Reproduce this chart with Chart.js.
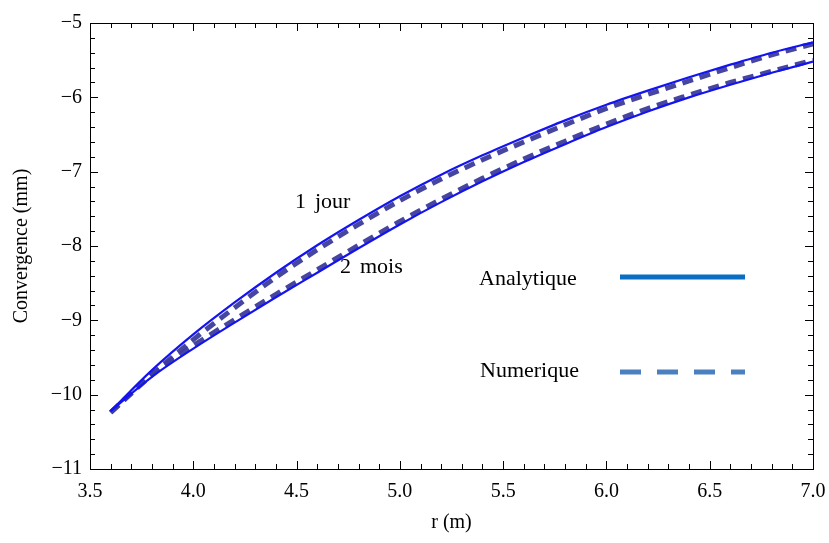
<!DOCTYPE html>
<html>
<head>
<meta charset="utf-8">
<script src="https://cdn.jsdelivr.net/npm/chart.js@4"></script>
<style>
  html, body { margin: 0; padding: 0; background: #fff; }
  #wrap { width: 829px; height: 543px; position: relative; }
</style>
</head>
<body>
<div id="wrap"><canvas id="chart"></canvas></div>
<script>
// r (m)
const rValues = [3.6, 3.8, 4.0, 4.2, 4.4, 4.6, 4.8, 5.0, 5.2, 5.4, 5.6, 5.8, 6.0, 6.2, 6.4, 6.6, 6.8, 7.0];

// convergence (mm), analytical solution
const analytic1Jour = [-10.22, -9.67, -9.19, -8.76, -8.36, -7.99, -7.65, -7.33, -7.04, -6.78, -6.54, -6.31, -6.10, -5.91, -5.73, -5.56, -5.40, -5.26];
const analytic2Mois = [-10.22, -9.76, -9.38, -9.03, -8.69, -8.36, -8.03, -7.71, -7.41, -7.13, -6.87, -6.63, -6.40, -6.19, -6.00, -5.83, -5.67, -5.52];

// convergence (mm), numerical results
const numeric1Jour = [-10.24, -9.73, -9.26, -8.83, -8.42, -8.05, -7.71, -7.39, -7.10, -6.84, -6.60, -6.37, -6.15, -5.96, -5.78, -5.60, -5.43, -5.28];
const numeric2Mois = [-10.24, -9.73, -9.34, -8.99, -8.65, -8.32, -7.99, -7.67, -7.37, -7.09, -6.83, -6.59, -6.36, -6.15, -5.97, -5.80, -5.65, -5.50];

const xTicks = [3.5, 4.0, 4.5, 5.0, 5.5, 6.0, 6.5, 7.0];
const yTicks = [-11, -10, -9, -8, -7, -6, -5];

const curveLabels = [
  { x: 295, y: 208, parts: ['1', 'jour'], gap: 9 },
  { x: 340, y: 273, parts: ['2', 'mois'], gap: 9 }
];
const legendItems = ['Analytique', 'Numerique'];

const serif = '"Liberation Serif", "Times New Roman", serif';
const solidColor = '#1414f0';
const dashColor = 'rgba(60,60,155,0.95)';

function toPoints(ys) {
  return rValues.map((x, i) => ({ x: x, y: ys[i] }));
}

function minus(v) {
  return v < 0 ? '\u2212' + Math.abs(v) : String(v);
}

// frame, inward ticks, titles, labels and legend
const decorations = {
  id: 'decorations',
  afterDraw(chart) {
    const ctx = chart.ctx;
    const a = chart.chartArea;
    const xs = chart.scales.x, ys = chart.scales.y;
    ctx.save();
    ctx.strokeStyle = '#000';
    ctx.lineWidth = 1;
    ctx.strokeRect(a.left + 0.5, a.top + 0.5, a.right - a.left, a.bottom - a.top);

    ctx.beginPath();
    for (let i = 35; i <= 70; i++) {
      const v = i / 10;
      const px = Math.round(xs.getPixelForValue(v)) + 0.5;
      const len = (i % 5 === 0) ? 8 : 5;
      ctx.moveTo(px, a.bottom); ctx.lineTo(px, a.bottom - len);
      ctx.moveTo(px, a.top); ctx.lineTo(px, a.top + len);
    }
    for (let i = -55; i <= -25; i++) {
      const v = i / 5;
      const py = Math.round(ys.getPixelForValue(v)) + 0.5;
      const len = (i % 5 === 0) ? 8 : 5;
      ctx.moveTo(a.left, py); ctx.lineTo(a.left + len, py);
      ctx.moveTo(a.right, py); ctx.lineTo(a.right - len, py);
    }
    ctx.stroke();

    ctx.fillStyle = '#000';
    ctx.font = '20px ' + serif;
    ctx.textAlign = 'center';
    ctx.textBaseline = 'middle';
    ctx.fillText('r (m)', (a.left + a.right) / 2, 523);
    ctx.save();
    ctx.translate(22, (a.top + a.bottom) / 2);
    ctx.rotate(-Math.PI / 2);
    ctx.fillText('Convergence (mm)', 0, 0);
    ctx.restore();

    ctx.font = '22px ' + serif;
    ctx.textAlign = 'left';
    ctx.textBaseline = 'alphabetic';
    curveLabels.forEach(l => {
      ctx.fillText(l.parts[0], l.x, l.y);
      const w = ctx.measureText(l.parts[0]).width;
      ctx.fillText(l.parts[1], l.x + w + l.gap, l.y);
    });

    ctx.fillText(legendItems[0], 479, 285);
    ctx.fillText(legendItems[1], 480, 377);
    ctx.lineWidth = 5;
    ctx.strokeStyle = '#0a6fc2';
    ctx.beginPath(); ctx.moveTo(620, 277); ctx.lineTo(745, 277); ctx.stroke();
    ctx.strokeStyle = '#4a80c0';
    ctx.setLineDash([21, 16]);
    ctx.beginPath(); ctx.moveTo(620, 372); ctx.lineTo(745, 372); ctx.stroke();
    ctx.restore();
  }
};

const solidStyle = { borderColor: solidColor, borderWidth: 2.2, pointRadius: 0, cubicInterpolationMode: 'monotone', fill: false };
const dashStyle = { borderColor: dashColor, borderWidth: 5, borderDash: [11, 7], pointRadius: 0, cubicInterpolationMode: 'monotone', fill: false };

new Chart(document.getElementById('chart'), {
  type: 'line',
  data: {
    datasets: [
      Object.assign({ label: 'Analytique 1 jour', data: toPoints(analytic1Jour) }, solidStyle),
      Object.assign({ label: 'Analytique 2 mois', data: toPoints(analytic2Mois) }, solidStyle),
      Object.assign({ label: 'Numerique 1 jour', data: toPoints(numeric1Jour) }, dashStyle),
      Object.assign({ label: 'Numerique 2 mois', data: toPoints(numeric2Mois) }, dashStyle)
    ]
  },
  options: {
    responsive: true,
    maintainAspectRatio: false,
    animation: false,
    layout: { padding: { left: 0, right: 16, top: 23, bottom: 0 } },
    plugins: { legend: { display: false }, tooltip: { enabled: false } },
    scales: {
      x: {
        type: 'linear', min: 3.5, max: 7.0,
        afterBuildTicks: s => { s.ticks = xTicks.map(v => ({ value: v })); },
        afterFit: s => { s.height = 74; s.paddingLeft = 0; s.paddingRight = 0; },
        grid: { display: false, drawTicks: false },
        border: { display: false },
        ticks: { color: '#000', padding: 11, font: { family: serif, size: 20 }, callback: v => v.toFixed(1) }
      },
      y: {
        min: -11, max: -5,
        afterBuildTicks: s => { s.ticks = yTicks.map(v => ({ value: v })); },
        afterFit: s => { s.width = 90; s.paddingTop = 0; s.paddingBottom = 0; },
        grid: { display: false, drawTicks: false },
        border: { display: false },
        ticks: { color: '#000', padding: 8, font: { family: serif, size: 20 }, callback: v => minus(v) }
      }
    }
  },
  plugins: [decorations]
});
</script>
</body>
</html>
